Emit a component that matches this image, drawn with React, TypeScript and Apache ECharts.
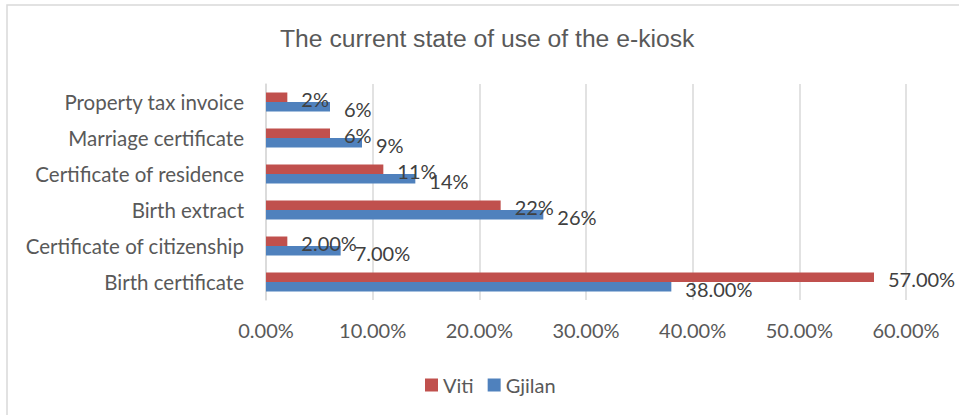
import React, { useEffect, useRef } from "react";
import * as echarts from "echarts";

const categories = [
  "Birth certificate",
  "Certificate of citizenship",
  "Birth extract",
  "Certificate of residence",
  "Marriage certificate",
  "Property tax invoice",
];
const vitiValues = [0.57, 0.02, 0.22, 0.11, 0.06, 0.02];
const gjilanValues = [0.38, 0.07, 0.26, 0.14, 0.09, 0.06];
const vitiLabels = ["57.00%", "2.00%", "22%", "11%", "6%", "2%"];
const gjilanLabels = ["38.00%", "7.00%", "26%", "14%", "9%", "6%"];
const xTicks = { min: 0, max: 0.6, interval: 0.1 };

const FONT = "Lato";

export default function App() {
  const ref = useRef<HTMLDivElement>(null);
  useEffect(() => {
    document.body.style.margin = "0";
    const chart = echarts.init(ref.current!, null, { renderer: "svg" });
    const labelStyle = (labels: string[]) => ({
      show: true,
      position: "right",
      distance: 14,
      offset: [0, 2],
      fontFamily: FONT,
      fontSize: 20,
      color: "#404040",
      formatter: (p: any) => labels[p.dataIndex],
    });
    chart.setOption({
      animation: false,
      backgroundColor: "#ffffff",
      title: {
        text: "The current state of use of the e-kiosk",
        left: 275,
        top: 21,
        textStyle: {
          fontFamily: "Liberation Sans",
          fontSize: 24.7,
          fontWeight: "normal",
          color: "#595959",
        },
      },
      graphic: [
        {
          type: "rect",
          shape: { x: 7, y: 5, width: 960, height: 420 },
          style: { fill: "none", stroke: "#d9d9d9", lineWidth: 1.5 },
          silent: true,
          z: -1,
        },
      ],
      legend: {
        data: ["Viti", "Gjilan"],
        left: 420,
        top: 370,
        itemWidth: 13,
        itemHeight: 13,
        itemGap: 14,
        icon: "rect",
        textStyle: { fontFamily: FONT, fontSize: 20, color: "#595959" },
      },
      grid: { left: 266, right: 53, top: 84, bottom: 115 },
      xAxis: {
        type: "value",
        min: xTicks.min,
        max: xTicks.max,
        interval: xTicks.interval,
        axisLine: { show: false },
        axisTick: { show: false },
        splitLine: { lineStyle: { color: "#d9d9d9", width: 1.5 } },
        axisLabel: {
          margin: 20,
          fontFamily: FONT,
          fontSize: 20,
          color: "#595959",
          formatter: (v: number) => (v * 100).toFixed(2) + "%",
        },
      },
      yAxis: {
        type: "category",
        data: categories,
        axisLine: { lineStyle: { color: "#d9d9d9", width: 1.5 } },
        axisTick: { show: false },
        axisLabel: {
          margin: 22,
          fontFamily: FONT,
          fontSize: 20.5,
          color: "#595959",
        },
      },
      series: [
        {
          name: "Viti",
          type: "bar",
          data: vitiValues,
          barWidth: 9.5,
          barGap: "0%",
          itemStyle: { color: "#C0504D" },
          label: labelStyle(vitiLabels),
        },
        {
          name: "Gjilan",
          type: "bar",
          data: gjilanValues,
          barWidth: 9.5,
          barGap: "0%",
          itemStyle: { color: "#4F81BD" },
          label: labelStyle(gjilanLabels),
        },
      ],
    });
    return () => chart.dispose();
  }, []);
  return <div ref={ref} style={{ width: 959, height: 415 }} />;
}
